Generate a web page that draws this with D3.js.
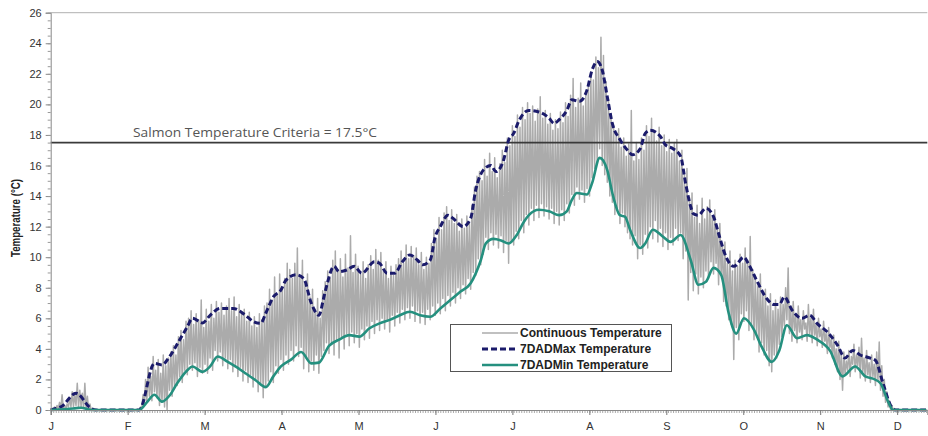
<!DOCTYPE html>
<html>
<head>
<meta charset="utf-8">
<script src="https://cdn.jsdelivr.net/npm/d3@7"></script>
<style>
  html, body { margin: 0; padding: 0; background: #fff; }
  svg { display: block; }
</style>
</head>
<body>
<svg id="chart" width="928" height="436"></svg>
<script>
// ---------------- DATA ----------------
const monthLabels = ["J","F","M","A","M","J","J","A","S","O","N","D"];
const yTickValues = [0,2,4,6,8,10,12,14,16,18,20,22,24,26];
const criteriaValue = 17.5;
const criteriaLabel = "Salmon Temperature Criteria = 17.5°C";
const seriesNames = ["Continuous Temperature", "7DADMax Temperature", "7DADMin Temperature"];

// Continuous temperature: daily highs and lows (index = day of year from Jan 1)
const contHigh = [
  0,0.2,0.3,0.5,1.0,0.3,0.4,0.8,1.2,1.0,1.75,1.3,1.1,1.75,0.9,0.4,0.1,
  0,0,0,0,0,0,0,0,0,0,0,0,0,0,0,0,0,0,
  0.2,1.0,2.0,2.8,2.2,3.5,2.6,3.3,2.4,3.6,2.9,3.4,3.8,4.2,3.6,4.8,5.2,4.6,5.8,6.0,6.5,5.6,6.3,5.9,7.2,5.4,
  6.6,5.8,6.9,6.0,7.1,6.4,7.0,6.2,6.8,7.3,
  6.5,7.4,6.1,6.9,6.3,6.6,5.8,6.4,5.5,6.1,
  5.4,6.3,5.9,6.8,7.0,7.9,7.2,8.7,7.5,8.9,
  7.9,8.6,9.6,9.2,8.6,9.6,10.6,8.8,9.8,8.2,
  8.9,7.4,7.9,6.6,7.3,6.0,7.8,8.4,9.1,8.6,
  9.8,10.4,9.2,9.9,8.7,10.2,9.3,11.4,9.0,10.2,
  9.4,8.9,9.7,8.6,9.5,10.1,9.2,10.5,9.8,10.3,
  9.1,9.7,8.6,9.4,8.8,9.5,9.9,10.4,9.6,10.8,
  9.9,10.7,10.1,10.6,9.5,10.3,9.2,10.0,9.6,10.9,
  11.8,11.2,12.6,11.8,12.9,13.3,12.4,13.1,12.2,12.8,
  11.7,12.5,11.9,12.7,12.2,13.4,14.6,15.3,15.6,15.0,
  16.4,15.3,16.8,15.6,16.5,15.2,16.1,17.0,16.2,17.8,
  17.3,18.6,17.9,19.3,18.5,19.8,19.0,20.1,19.4,19.9,
  18.9,19.7,20.5,19.1,19.6,18.7,19.4,18.3,19.0,18.4,
  19.5,18.8,20.1,19.2,20.6,21.7,19.8,20.4,21.4,19.9,
  20.7,21.3,22.1,21.6,23.1,22.4,24.4,23.2,21.5,20.3,
  19.4,18.6,17.9,18.4,17.2,17.8,16.6,17.4,19.6,16.3,
  17.5,16.4,17.8,17.0,18.6,17.9,19.1,18.2,17.6,18.5,
  17.3,18.0,16.9,17.7,16.8,17.5,17.7,16.3,17.0,15.4,
  15.8,13.9,14.2,12.6,13.4,12.2,13.85,12.5,13.3,13.75,
  12.7,13.1,11.9,12.2,10.8,11.0,9.6,10.4,9.1,9.8,
  9.4,10.2,9.6,10.6,9.8,11.35,9.2,8.8,8.1,8.9,
  7.6,7.9,6.8,7.6,6.5,7.2,6.6,7.4,6.9,8.0,
  9.3,6.8,7.1,6.2,6.8,5.9,6.5,5.7,6.9,6.0,
  6.6,5.6,6.0,5.3,5.8,5.0,5.4,4.6,4.9,4.0,
  4.5,3.6,3.8,3.2,3.9,3.5,4.3,3.6,4.1,4.7,
  3.4,3.9,3.1,3.6,3.0,3.8,4.45,2.9,2.0,1.2,
  0.6,0.3,0.1,0,0,0,0,0,0,0,
  0,0,0,0,0,0
];
const contLow = [
  0,0,0,0.1,0.1,0.1,0.1,0.2,0.2,0.2,0.3,0.2,0.2,0.1,0.1,0,0,
  0,0,0,0,0,0,0,0,0,0,0,0,0,0,0,0,0,0,
  0,0.1,0.3,0.5,0.9,0.6,1.2,0.8,0.3,0.5,0.2,0.0,1.3,0.9,1.5,1.6,2.2,1.8,2.6,2.3,3.0,2.6,3.1,2.2,2.8,2.4,
  3.0,2.4,3.4,2.6,3.9,3.2,3.8,2.9,3.4,2.7,
  3.3,2.5,3.0,2.2,2.8,1.9,2.6,1.8,2.3,1.5,
  2.0,1.2,1.7,0.8,1.6,1.9,2.5,1.8,2.9,2.4,
  3.3,2.6,3.6,3.0,3.9,3.2,4.2,3.5,4.1,2.7,
  3.4,2.5,3.2,2.6,3.6,2.4,3.5,3.9,4.4,3.7,
  4.3,3.6,4.5,3.4,4.8,4.0,5.0,4.2,5.1,4.4,
  5.0,4.1,5.3,4.6,5.5,4.7,5.8,5.0,5.9,5.2,
  6.0,5.3,5.8,5.1,6.2,5.5,6.4,5.7,6.6,5.9,
  6.7,6.0,6.8,5.8,6.5,5.7,6.4,5.6,6.6,5.9,
  6.8,6.2,7.0,6.3,7.3,6.5,7.5,6.8,7.7,7.0,
  8.0,7.3,8.2,7.6,8.6,7.9,9.0,8.8,9.9,9.5,
  10.2,11.3,10.5,11.6,10.8,11.5,10.6,11.4,10.3,11.1,
  9.6,11.0,10.8,11.7,11.2,12.4,11.6,12.8,12.1,13.2,
  12.4,13.4,12.6,13.5,12.7,13.3,12.5,13.2,12.2,13.0,
  12.1,13.1,12.4,13.5,12.9,14.1,13.4,14.6,13.8,14.4,
  13.6,14.5,14.0,15.2,15.8,16.2,17.1,16.0,15.4,14.9,
  14.0,13.6,12.8,13.1,12.2,12.9,12.0,11.6,11.2,10.8,
  11.4,9.9,10.8,10.2,11.5,10.6,12.0,11.2,12.4,11.0,
  11.9,10.7,11.6,10.5,11.3,10.8,11.9,11.1,11.6,9.9,
  10.4,7.2,9.0,7.8,8.9,7.6,8.7,8.0,9.1,8.6,
  9.7,8.9,9.6,8.2,8.9,7.1,6.8,5.9,5.6,3.3,
  5.4,4.6,6.3,5.8,6.5,5.2,5.6,4.6,5.0,3.8,
  4.4,3.6,3.9,2.9,2.5,3.6,3.4,4.3,4.8,5.5,
  5.9,5.0,4.5,5.2,4.4,5.1,4.6,5.3,4.5,5.0,
  4.4,4.9,4.2,4.8,4.1,4.5,3.7,4.1,3.4,3.0,
  2.5,2.0,1.3,2.3,2.6,2.2,3.0,2.5,2.9,2.1,
  2.5,1.9,2.3,1.8,2.2,1.6,1.9,1.3,0.9,0.5,
  0.2,0,0,0,0,0,0,0,0,0,
  0,0,0,0,0,0
];

// 7-day average of daily maximum (day of year, value)
const maxDays = [0,2,4,10,16,18,35,41,44,47,51,54,56,60,63,67,72,77,80,83,85,88,91,93,97,100,103,106,108,109,112,114,117,120,123,128,130,133,136,139,142,145,147,150,152,154,157,159,163,166,168,171,174,176,179,181,183,185,189,193,197,199,201,204,206,209,212,214,216,218,220,222,225,228,230,233,235,237,241,243,246,249,251,253,254,256,259,262,264,267,270,274,276,279,283,286,288,290,293,297,300,303,307,311,314,317,320,324,326,329,332,334,346];
const maxVals = [0,0.1,0.2,1.1,0.1,0,0,3.05,2.95,3.5,4.6,5.45,6.0,5.7,6.2,6.65,6.65,6.2,5.8,5.67,6.33,7.4,7.85,8.5,8.85,8.6,7.0,6.2,7.4,8.07,9.4,9.05,9.16,9.4,8.95,9.7,9.6,8.95,8.95,9.7,10.15,9.8,9.5,9.8,11.35,12.0,12.75,12.55,12.0,12.55,14.4,15.7,16.0,15.6,16.35,17.65,18.1,18.9,19.6,19.5,19.1,18.75,19.0,19.6,20.3,20.2,20.95,22.25,22.8,22.25,20.5,18.75,17.7,17.0,16.7,17.1,18.1,18.3,17.9,17.35,17.1,16.6,14.8,13.3,12.85,12.75,13.2,12.65,11.55,10.0,9.4,10.0,9.5,8.5,7.3,6.9,6.9,7.4,6.55,6.0,6.2,5.65,5.1,4.25,3.4,3.9,3.6,3.4,3.25,1.75,0.3,0,0];

// 7-day average of daily minimum (day of year, value)
const minDays = [0,9,12,16,35,38,41,44,47,50,54,56,60,63,66,70,73,77,81,85,88,91,95,99,103,106,110,114,118,122,126,130,134,138,142,146,150,154,158,162,166,170,172,175,178,181,184,187,189,193,197,201,204,206,208,212,214,217,220,222,225,227,229,233,235,238,242,245,249,253,256,259,262,265,268,271,274,278,281,285,288,291,295,299,303,308,313,318,322,325,328,331,333,346];
const minVals = [0,0.1,0.15,0,0,0.5,1.0,0.55,0.95,1.75,2.6,2.85,2.5,2.85,3.5,3.15,2.85,2.4,1.95,1.5,2.2,2.85,3.3,3.8,3.05,3.1,4.2,4.6,4.9,4.8,5.35,5.67,5.9,6.2,6.43,6.2,6.1,6.65,7.2,7.75,8.3,9.8,10.9,11.2,11.1,10.9,11.4,12.3,12.75,13.1,13.0,12.75,13.0,13.75,14.2,14.1,14.85,16.5,15.7,14.2,12.75,12.65,11.8,10.6,10.9,11.8,11.35,11.0,11.45,9.8,8.2,8.4,9.3,8.85,6.33,5.0,6.0,5.25,4.15,3.15,3.9,5.55,4.7,4.9,4.6,3.9,2.2,2.85,2.2,2.05,1.75,0.55,0,0];

// ---------------- CHART ----------------
const svg = d3.select("#chart");
const plotL = 50.7, plotR = 927.3, plotT = 12.7, plotB = 410;
const font = "'Liberation Sans', Arial, sans-serif";

const x = d3.scaleLinear().domain([0, 346.5]).range([plotL, plotR]);
const y = d3.scaleLinear().domain([0, 26]).range([plotB, plotT]);

// top border of plot area
svg.append("line").attr("x1", plotL).attr("x2", plotR).attr("y1", y(26)).attr("y2", y(26))
  .attr("stroke", "#b0b0b0").attr("stroke-width", 1);

// continuous series
const contPts = [];
contHigh.forEach((h, i) => {
  contPts.push([i, contLow[i]]);
  contPts.push([i + 0.5, h]);
});
svg.append("path").datum(contPts)
  .attr("fill", "none").attr("stroke", "#ababab").attr("stroke-width", 1.5)
  .attr("stroke-linejoin", "round")
  .attr("d", d3.line().x(d => x(d[0])).y(d => y(d[1])));

// criteria line
svg.append("line").attr("x1", plotL).attr("x2", plotR)
  .attr("y1", y(criteriaValue)).attr("y2", y(criteriaValue))
  .attr("stroke", "#3a3a3a").attr("stroke-width", 1.8);
svg.append("text").attr("x", 133).attr("y", y(criteriaValue) - 6)
  .attr("font-family", "'Open Sans', 'Liberation Sans', sans-serif").attr("font-size", 12).attr("fill", "#555")
  .attr("textLength", 244).attr("lengthAdjust", "spacingAndGlyphs")
  .text(criteriaLabel);

// 7DADMax
const maxPts = maxDays.map((d, i) => [d, maxVals[i]]);
svg.append("path").datum(maxPts)
  .attr("fill", "none").attr("stroke", "#1b1b6b").attr("stroke-width", 3)
  .attr("stroke-dasharray", "6,3")
  .attr("d", d3.line().curve(d3.curveMonotoneX).x(d => x(d[0])).y(d => y(d[1])));

// 7DADMin
const minPts = minDays.map((d, i) => [d, minVals[i]]);
svg.append("path").datum(minPts)
  .attr("fill", "none").attr("stroke", "#25907f").attr("stroke-width", 2.6)
  .attr("d", d3.line().curve(d3.curveMonotoneX).x(d => x(d[0])).y(d => y(d[1])));

// y axis
const yAxis = svg.append("g").attr("transform", `translate(${plotL},0)`)
  .call(d3.axisLeft(y).tickValues(yTickValues).tickSize(5).tickPadding(4).tickFormat(d3.format("d")));
yAxis.select(".domain").attr("stroke", "#888");
yAxis.selectAll(".tick line").attr("stroke", "#888");
yAxis.selectAll("text").attr("font-family", font).attr("font-size", 11).attr("fill", "#333");
const yMinor = svg.append("g").attr("transform", `translate(${plotL},0)`)
  .call(d3.axisLeft(y).tickValues(d3.range(0, 26.01, 0.5)).tickSize(3).tickFormat(""));
yMinor.select(".domain").remove();
yMinor.selectAll(".tick line").attr("stroke", "#999");

// x axis
const monthPos = monthLabels.map((m, i) => i * 365 / 12);
const xMinor = svg.append("g").attr("transform", `translate(0,${plotB})`)
  .call(d3.axisBottom(x).tickValues(d3.range(0, 347, 1)).tickSize(3).tickFormat(""));
xMinor.select(".domain").remove();
xMinor.selectAll(".tick line").attr("stroke", "#aaa");
const xAxis = svg.append("g").attr("transform", `translate(0,${plotB})`)
  .call(d3.axisBottom(x).tickValues(monthPos).tickSize(5).tickPadding(7)
    .tickFormat((d, i) => monthLabels[i]));
xAxis.select(".domain").attr("stroke", "#888");
xAxis.selectAll(".tick line").attr("stroke", "#777");
xAxis.selectAll("text").attr("font-family", font).attr("font-size", 11).attr("fill", "#333");

// y title
svg.append("text")
  .attr("transform", `translate(20,218) rotate(-90)`)
  .attr("text-anchor", "middle")
  .attr("font-family", font).attr("font-size", 12).attr("font-weight", "bold").attr("fill", "#222")
  .attr("textLength", 78).attr("lengthAdjust", "spacingAndGlyphs")
  .text("Temperature (°C)");

// legend
const lg = svg.append("g");
lg.append("rect").attr("x", 450.5).attr("y", 324.5).attr("width", 221).attr("height", 47)
  .attr("fill", "#fff").attr("stroke", "#555").attr("stroke-width", 1);
const legendStyles = [
  {stroke: "#ababab", width: 1.5, dash: null},
  {stroke: "#1b1b6b", width: 3, dash: "6,3"},
  {stroke: "#25907f", width: 2.6, dash: null}
];
seriesNames.forEach((name, i) => {
  const yy = 333 + i * 16;
  const ln = lg.append("line").attr("x1", 482).attr("x2", 518).attr("y1", yy).attr("y2", yy)
    .attr("stroke", legendStyles[i].stroke).attr("stroke-width", legendStyles[i].width);
  if (legendStyles[i].dash) ln.attr("stroke-dasharray", legendStyles[i].dash);
  lg.append("text").attr("x", 520).attr("y", yy + 4)
    .attr("font-family", font).attr("font-size", 12).attr("font-weight", "bold").attr("fill", "#222")
    .text(name);
});
</script>
</body>
</html>
